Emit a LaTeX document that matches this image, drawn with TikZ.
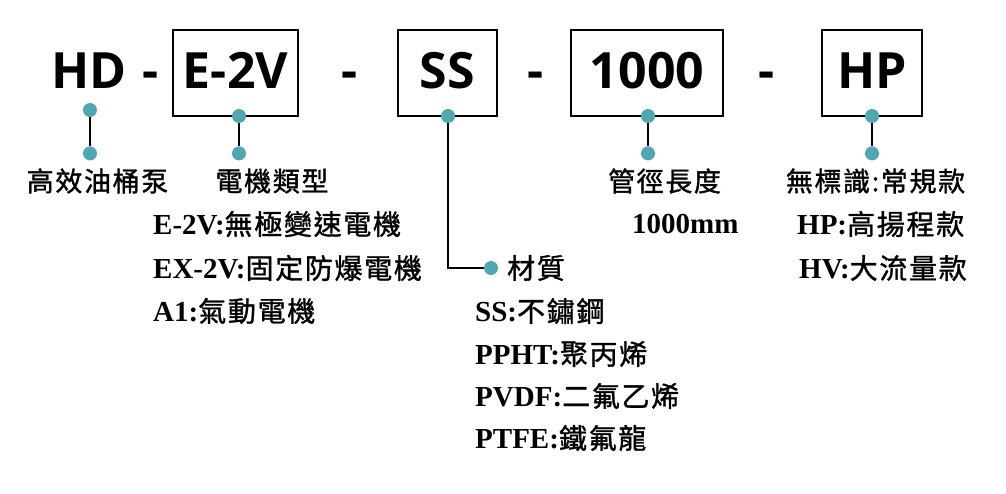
\documentclass[tikz,border=0pt]{standalone}
\usepackage{fontspec}
\setmainfont{Liberation Serif}
\setsansfont{Open Sans}
\newfontfamily\cjk[LetterSpace=6, FakeBold=1.2]{Noto Sans CJK TC}
\usetikzlibrary{positioning}
\definecolor{pincol}{HTML}{4FA8B0}
\newcommand{\partno}[1]{{\rmfamily\bfseries\fontsize{29}{29}\selectfont #1}}

\begin{document}
\begin{tikzpicture}[x=1pt, y=1pt,
	code/.style={font=\sffamily\bfseries\fontsize{50}{50}\selectfont, inner sep=0pt, anchor=base},
	codebox/.style={draw, line width=1.2pt, inner sep=0pt, minimum height=86pt, text height=35pt, text depth=5pt, font=\sffamily\bfseries\fontsize{50}{50}\selectfont},
	pin/.style={circle, fill=pincol, inner sep=0pt, minimum size=14pt},
	lead/.style={line width=1.6pt},
	title/.style={font=\cjk\fontsize{27}{27}\selectfont, inner sep=0pt},
	item/.style={font=\cjk\fontsize{28}{28}\selectfont, inner sep=0pt, anchor=west}]
	\useasboundingbox (0,0) rectangle (1006,-493);
	% model code
	\node[code] (hd) at (89,-88) {HD};
	\node[code] (d1) at (151,-88) {-};
	\node[codebox, minimum width=125pt] (motor) at (235.5,-73) {E-2V};
	\node[code] (d2) at (350,-88) {-};
	\node[codebox, minimum width=99pt] (mat) at (447.5,-73) {SS};
	\node[code] (d3) at (535.5,-88) {-};
	\node[codebox, minimum width=152pt] (len) at (647,-73) {1000};
	\node[code] (d4) at (766.5,-88) {-};
	\node[codebox, minimum width=100pt] (type) at (872,-73) {HP};
	% pins
	\node[pin] (hdA) at (90,-110) {};
	\node[pin] (hdB) [below=29pt of hdA] {};
	\node[pin] (motorA) at (239,-116) {};
	\node[pin] (motorB) [below=23pt of motorA] {};
	\node[pin] (matA) at (448,-116) {};
	\node[pin] (matB) at (491,-268) {};
	\node[pin] (lenA) at (648,-116) {};
	\node[pin] (lenB) [below=23pt of lenA] {};
	\node[pin] (typeA) at (872,-116) {};
	\node[pin] (typeB) [below=23pt of typeA] {};
	\draw[lead] (hdA) -- (hdB);
	\draw[lead] (motorA) -- (motorB);
	\draw[lead] (matA) |- (matB);
	\draw[lead] (lenA) -- (lenB);
	\draw[lead] (typeA) -- (typeB);
	% titles
	\node[title] (hdT) at (97.5,-181) {高效油桶泵};
	\node[title] (motorT) at (272,-181) {電機類型};
	\node[item] (matT) at (507,-268) {材質};
	\node[title] (lenT) at (664.5,-181) {管徑長度};
	\node[title] (typeT) at (875.5,-181) {無標識:常規款};
	% options
	\node[item] (e2v) at (153,-224) {\partno{E-2V:}無極變速電機};
	\node[item] (ex2v) at (153,-268) {\partno{EX-2V:}固定防爆電機};
	\node[item] (a1) at (153,-311) {\partno{A1:}氣動電機};
	\node[item] (ss) at (475,-311) {\partno{SS:}不鏽鋼};
	\node[item] (ppht) at (475,-354) {\partno{PPHT:}聚丙烯};
	\node[item] (pvdf) at (475,-396) {\partno{PVDF:}二氟乙烯};
	\node[item] (ptfe) at (475,-438) {\partno{PTFE:}鐵氟龍};
	\node[item] (mm) at (632,-224) {\partno{1000mm}};
	\node[item] (hpo) at (797,-224) {\partno{HP:}高揚程款};
	\node[item] (hvo) at (799,-268) {\partno{HV:}大流量款};
\end{tikzpicture}
\end{document}
